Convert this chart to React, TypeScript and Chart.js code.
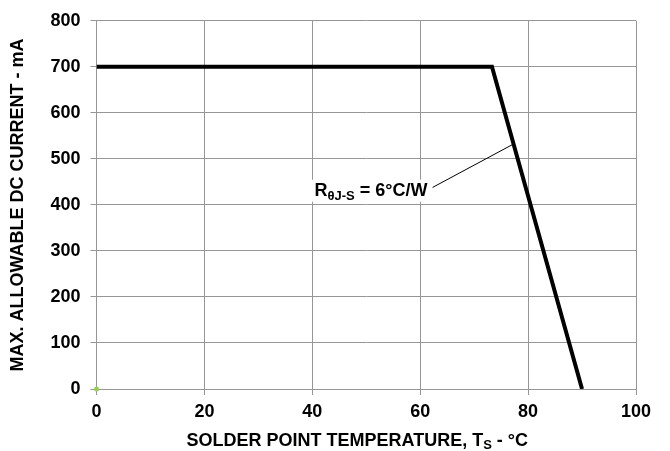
import React, { useEffect, useRef } from "react";
import { Chart, registerables } from "chart.js";

Chart.register(...registerables);

// ---- data ----
const tempC = [0, 73.3, 90];
const currentMA = [700, 700, 0];

const leaderX = [62.3, 77.1];
const leaderY = [438, 531];

const markerX = [0];
const markerY = [0];

const xTicks = [0, 20, 40, 60, 80, 100];
const yTicks = [0, 100, 200, 300, 400, 500, 600, 700, 800];

const yTitle = "MAX. ALLOWABLE DC CURRENT - mA";
const xTitleMain = "SOLDER POINT TEMPERATURE, T";
const xTitleSub = "S";
const xTitleEnd = " - °C";

const noteMain = "R";
const noteSub = "θJ-S";
const noteEnd = " = 6°C/W";
const noteAt = { x: 40.4, y: 420 };

const FONT = "'Liberation Sans', Arial, sans-serif";
const GRID = "#969696";

const annotationPlugin = {
  id: "customText",
  afterDatasetsDraw(chart: any) {
    const { ctx, scales } = chart;
    const xs = scales.x;
    const ys = scales.y;
    const px = xs.getPixelForValue(noteAt.x);
    const py = ys.getPixelForValue(noteAt.y);
    ctx.save();
    ctx.textBaseline = "alphabetic";
    ctx.textAlign = "left";
    ctx.font = `bold 18px ${FONT}`;
    const w1 = ctx.measureText(noteMain).width;
    const w3 = ctx.measureText(noteEnd).width;
    ctx.font = `bold 13px ${FONT}`;
    const w2 = ctx.measureText(noteSub).width;
    const total = w1 + w2 + w3;
    ctx.fillStyle = "#ffffff";
    ctx.fillRect(px - 4, py - 16, total + 7, 22);
    ctx.fillStyle = "#000000";
    ctx.font = `bold 18px ${FONT}`;
    ctx.fillText(noteMain, px, py);
    ctx.font = `bold 13px ${FONT}`;
    ctx.fillText(noteSub, px + w1, py + 4);
    ctx.font = `bold 18px ${FONT}`;
    ctx.fillText(noteEnd, px + w1 + w2, py);
    ctx.restore();
  },
  afterDraw(chart: any) {
    const { ctx, chartArea } = chart;
    ctx.save();
    ctx.fillStyle = "#000000";
    ctx.textBaseline = "alphabetic";
    ctx.textAlign = "left";
    ctx.font = `bold 18px ${FONT}`;
    const a = ctx.measureText(xTitleMain).width;
    const c = ctx.measureText(xTitleEnd).width;
    ctx.font = `bold 13px ${FONT}`;
    const b = ctx.measureText(xTitleSub).width;
    const total = a + b + c;
    const cx = (chartArea.left + chartArea.right) / 2 - 9;
    const x0 = cx - total / 2;
    const base = chart.height - 5;
    ctx.font = `bold 18px ${FONT}`;
    ctx.fillText(xTitleMain, x0, base);
    ctx.font = `bold 13px ${FONT}`;
    ctx.fillText(xTitleSub, x0 + a, base + 3);
    ctx.font = `bold 18px ${FONT}`;
    ctx.fillText(xTitleEnd, x0 + a + b, base);
    ctx.restore();
  },
};

export default function App() {
  const ref = useRef<HTMLCanvasElement | null>(null);

  useEffect(() => {
    document.body.style.margin = "0";
    if (!ref.current) return;
    const chart = new Chart(ref.current, {
      type: "line",
      data: {
        datasets: [
          {
            data: tempC.map((x, i) => ({ x, y: currentMA[i] })),
            borderColor: "#000000",
            borderWidth: 4,
            pointRadius: 0,
            fill: false,
            tension: 0,
            order: 2,
          },
          {
            data: leaderX.map((x, i) => ({ x, y: leaderY[i] })),
            borderColor: "#000000",
            borderWidth: 1,
            pointRadius: 0,
            fill: false,
            order: 3,
          },
          {
            data: markerX.map((x, i) => ({ x, y: markerY[i] })),
            borderColor: "#92d050",
            backgroundColor: "#92d050",
            showLine: false,
            pointRadius: 2.5,
            pointBorderWidth: 0,
            clip: false,
            order: 1,
          },
        ],
      },
      options: {
        responsive: false,
        animation: false,
        devicePixelRatio: 1,
        layout: { padding: { left: 0, top: 15, right: 34, bottom: 0 } },
        plugins: {
          legend: { display: false },
          tooltip: { enabled: false },
        },
        scales: {
          x: {
            type: "linear",
            min: 0,
            max: 100,
            afterBuildTicks: (s: any) => {
              s.ticks = xTicks.map((v) => ({ value: v }));
            },
            afterFit: (s: any) => {
              s.height = 62;
            },
            grid: { color: GRID, lineWidth: 1, tickLength: 6, tickColor: GRID },
            border: { color: GRID, width: 1 },
            ticks: {
              color: "#000000",
              padding: 6,
              font: { family: FONT, size: 18, weight: "bold" },
              maxRotation: 0,
            },
          },
          y: {
            type: "linear",
            min: 0,
            max: 800,
            afterBuildTicks: (s: any) => {
              s.ticks = yTicks.map((v) => ({ value: v }));
            },
            afterFit: (s: any) => {
              s.width = 96.5;
            },
            grid: { color: GRID, lineWidth: 1, tickLength: 6, tickColor: GRID },
            border: { color: GRID, width: 1 },
            ticks: {
              color: "#000000",
              padding: 10,
              font: { family: FONT, size: 18, weight: "bold" },
            },
            title: {
              display: true,
              text: yTitle,
              color: "#000000",
              font: { family: FONT, size: 18, weight: "bold" },
              padding: { top: 7, bottom: 0 },
            },
          },
        },
      },
      plugins: [annotationPlugin],
    });
    return () => chart.destroy();
  }, []);

  return (
    <div style={{ width: 670, height: 451 }}>
      <canvas ref={ref} width={670} height={451} style={{ display: "block" }} />
    </div>
  );
}
